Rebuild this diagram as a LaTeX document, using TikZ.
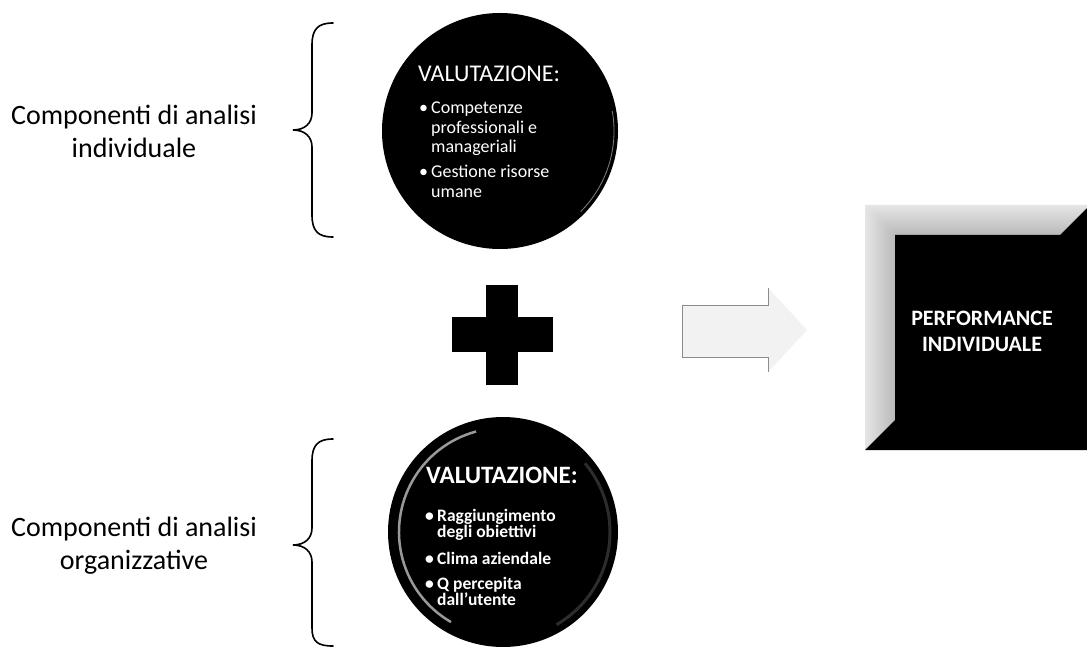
\documentclass[tikz,border=0pt]{standalone}
\usepackage{fontspec}
\setmainfont{Carlito}
\begin{document}
\begin{tikzpicture}[x=1pt,y=1pt,
  lbl/.style={font=\fontsize{28}{33}\selectfont, align=center, text=black},
  ctitle/.style={font=\fontsize{24}{28}\selectfont, text=white, anchor=base west, inner sep=0},
  citem/.style={font=\fontsize{18}{21}\selectfont, text=white, anchor=base west, inner sep=0},
  btitle/.style={font=\bfseries\fontsize{25}{29}\selectfont, text=white, anchor=base west, inner sep=0},
  bitem/.style={font=\bfseries\fontsize{17.5}{20}\selectfont, text=white, anchor=base west, inner sep=0},
  bracepath/.style={draw=black, line width=1.6pt, line cap=round},
  disc/.style={circle, fill=black, inner sep=0, minimum size=#1},
  bar/.style={fill=black, inner sep=0},
]
\useasboundingbox (0,0) rectangle (1087,649);
\fill[white] (0,0) rectangle (1087,649);

% left labels
\node[lbl] (l1) at (134,518) {Componenti di analisi\\individuale};
\node[lbl] (l2) at (134,103) {Componenti di analisi\\organizzative};

% braces
\draw[bracepath] (333,626) .. controls (318,626) and (312,620) .. (312,604) -- (312,536)
  .. controls (312,526) and (305,519) .. (293,519)
  .. controls (305,519) and (312,512) .. (312,502) -- (312,434)
  .. controls (312,418) and (318,412) .. (333,412);
\draw[bracepath] (333,210) .. controls (318,210) and (312,204) .. (312,188) -- (312,121)
  .. controls (312,111) and (305,104) .. (293,104)
  .. controls (305,104) and (312,97) .. (312,87) -- (312,21)
  .. controls (312,7) and (318,3) .. (333,3);

% top circle
\node[disc=236pt] (c1) at (500,518) {};
\draw[white, line width=0.8pt, opacity=0.5] (c1.center) ++(-45:114) arc[start angle=-45, end angle=10, radius=114];
\node[ctitle] (v1) at (418,567) {VALUTAZIONE:};
\node[citem] (b1) at (419,535) {•};
\node[citem] (t1) at (431,535) {Competenze};
\node[citem] (t2) at (431,515.5) {professionali e};
\node[citem] (t3) at (431,496) {manageriali};
\node[citem] (b2) at (419,471) {•};
\node[citem] (t4) at (431,471) {Gestione risorse};
\node[citem] (t5) at (431,451.5) {umane};

% plus
\node[bar, minimum width=32pt, minimum height=100pt] (plusv) at (502,314) {};
\node[bar, minimum width=101pt, minimum height=35pt] (plush) at (502.5,314.5) {};

% bottom circle
\node[disc=230pt] (c2) at (503,117) {};
\draw[white, line width=2.5pt, opacity=0.6] (c2.center) ++(105:104) arc[start angle=105, end angle=240, radius=104];
\draw[gray!60, line width=3pt, opacity=0.25] (c2.center) ++(-60:107) arc[start angle=-60, end angle=40, radius=107];
\node[btitle] (v2) at (426,166) {VALUTAZIONE:};
\node[bitem] (bb1) at (425,128) {•};
\node[bitem] (s1) at (437,128) {Raggiungimento};
\node[bitem] (s2) at (437,111.5) {degli obiettivi};
\node[bitem] (bb2) at (425,85) {•};
\node[bitem] (s3) at (437,85) {Clima aziendale};
\node[bitem] (bb3) at (425,60) {•};
\node[bitem] (s4) at (437,60) {Q percepita};
\node[bitem] (s5) at (437,43.5) {dall'utente};

% arrow
\fill[black!5] (682,344) -- (768,344) -- (768,361) -- (807,319) -- (768,277) -- (768,292) -- (682,292) -- cycle;
\draw[black!45, line width=0.6pt] (768,361) -- (768,344) -- (682,344) -- (682,292) -- (768,292) -- (768,277);

% performance box
\shade[top color=gray!20, bottom color=gray!55] (865,444) -- (1087,444) -- (1087,441) -- (1060,414) -- (895,414) -- cycle;
\shade[left color=gray!20, right color=gray!55] (865,444) -- (895,414) -- (895,229) -- (865,199) -- cycle;
\fill[black] (895,414) -- (1060,414) -- (1087,441) -- (1087,199) -- (865,199) -- (895,229) -- cycle;
\node[font=\bfseries\fontsize{22}{26}\selectfont, text=white, align=center] (perf) at (982,318) {PERFORMANCE\\INDIVIDUALE};
\end{tikzpicture}
\end{document}
